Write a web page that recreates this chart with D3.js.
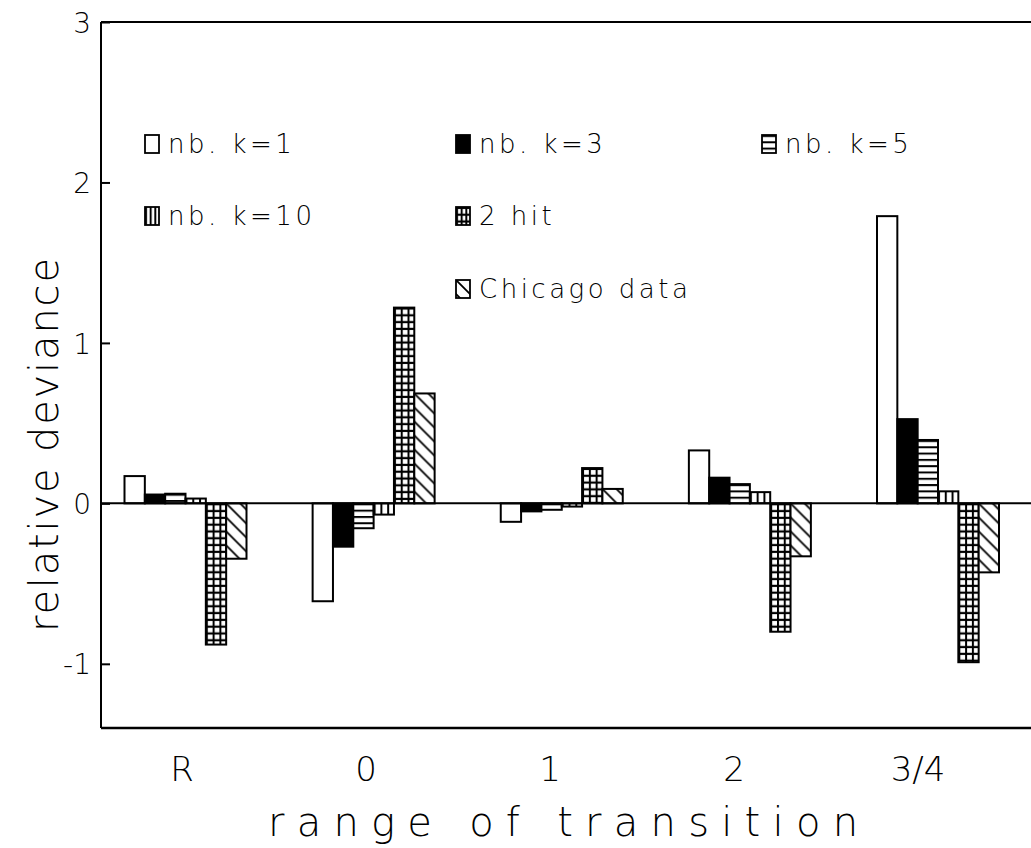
<!DOCTYPE html>
<html>
<head>
<meta charset="utf-8">
<script src="https://cdn.jsdelivr.net/npm/d3@7"></script>
<style>
body { margin: 0; background: #fff; }
text { font-family: "DejaVu Sans", sans-serif; font-weight: 200; fill: #000; }
</style>
</head>
<body>
<div id="chart"></div>
<script>
// categories on the x axis
const categories = ["R", "0", "1", "2", "3/4"];
const seriesNames = ["nb. k=1", "nb. k=3", "nb. k=5", "nb. k=10", "2 hit", "Chicago data"];

// relative deviance per category, one array per series
const nbK1 = [0.17, -0.61, -0.115, 0.33, 1.79];
const nbK3 = [0.055, -0.27, -0.05, 0.16, 0.525];
const nbK5 = [0.06, -0.155, -0.04, 0.12, 0.395];
const nbK10 = [0.03, -0.07, -0.02, 0.07, 0.075];
const twoHit = [-0.88, 1.22, 0.22, -0.80, -0.99];
const chicago = [-0.345, 0.685, 0.09, -0.33, -0.43];

const yTicks = [-1, 0, 1, 2, 3];

const allSeries = [nbK1, nbK3, nbK5, nbK10, twoHit, chicago];
const fills = ["open", "solid", "hstripe", "vstripe", "grid", "hatch"];

const width = 1031, height = 848;
const plotLeft = 101, plotTop = 22, plotBottom = 728;

const svg = d3.select("#chart")
    .append("svg")
    .attr("width", width)
    .attr("height", height);

const defs = svg.append("defs");

// y scale
const y = d3.scaleLinear()
    .domain([-1.4, 3])
    .range([plotBottom, plotTop]);

// group centres for the bars and for the labels (they drift a bit in the original)
const xGroup = d3.scalePoint().domain(categories).range([185.5, 938]);
const xLabel = d3.scalePoint().domain(categories).range([182, 918]);
const xInner = d3.scaleBand().domain(seriesNames).range([-61, 61]);

let patCount = 0;
// builds a fill pattern anchored at the rect origin so stripes line up with the edges
function makeFill(type, x0, y0, w) {
    if (type === "open") return "#fff";
    if (type === "solid") return "#000";
    const id = "pat" + (patCount++);
    const p = defs.append("pattern")
        .attr("id", id)
        .attr("patternUnits", "userSpaceOnUse")
        .attr("x", x0)
        .attr("y", y0);
    if (type === "hstripe") {
        p.attr("width", w).attr("height", 6.3);
        p.append("rect").attr("width", w).attr("height", 6.3).attr("fill", "#fff");
        p.append("rect").attr("width", w).attr("height", 2).attr("fill", "#000");
    } else if (type === "vstripe") {
        const pw = w / 3;
        p.attr("width", pw).attr("height", 10);
        p.append("rect").attr("width", pw).attr("height", 10).attr("fill", "#fff");
        p.append("rect").attr("width", 2).attr("height", 10).attr("fill", "#000");
    } else if (type === "grid") {
        const pw = w / 3, ph = 6.8;
        p.attr("width", pw).attr("height", ph);
        p.append("rect").attr("width", pw).attr("height", ph).attr("fill", "#000");
        p.append("rect").attr("x", 2).attr("y", 2)
            .attr("width", pw - 2).attr("height", ph - 2.2).attr("fill", "#fff");
    } else if (type === "hatch") {
        const s = 14;
        p.attr("width", s).attr("height", s);
        p.append("rect").attr("width", s).attr("height", s).attr("fill", "#fff");
        p.append("path")
            .attr("d", `M0,0L${s},${s}M${-s / 2},${s / 2}L${s / 2},${s * 1.5}M${s / 2},${-s / 2}L${s * 1.5},${s / 2}`)
            .attr("stroke", "#000")
            .attr("stroke-width", 1.8);
    }
    return `url(#${id})`;
}

// frame
svg.append("line")
    .attr("x1", plotLeft).attr("x2", width)
    .attr("y1", plotTop).attr("y2", plotTop)
    .attr("stroke", "#000").attr("stroke-width", 2);
svg.append("line")
    .attr("x1", plotLeft).attr("x2", width)
    .attr("y1", plotBottom).attr("y2", plotBottom)
    .attr("stroke", "#000").attr("stroke-width", 2.5);

// y axis, ticks pointing inward
const yAxis = svg.append("g")
    .attr("transform", `translate(${plotLeft},0)`)
    .call(d3.axisLeft(y).tickValues(yTicks).tickSize(-9).tickSizeOuter(0).tickPadding(10).tickFormat(d => String(d)));
yAxis.select(".domain").remove();
yAxis.append("line")
    .attr("y1", plotTop).attr("y2", plotBottom)
    .attr("stroke", "#000").attr("stroke-width", 2);
yAxis.selectAll(".tick line").attr("stroke", "#000").attr("stroke-width", 2);
yAxis.selectAll(".tick text")
    .attr("font-size", 28)
    .attr("font-family", "DejaVu Sans")
    .attr("fill", "#000")
    .attr("dy", "0.36em");

// bars
allSeries.forEach(function(values, j) {
    const g = svg.append("g");
    categories.forEach(function(c, i) {
        const v = values[i];
        const bx = xGroup(c) + xInner(seriesNames[j]);
        const bw = xInner.bandwidth();
        const by = y(Math.max(v, 0));
        const bh = Math.abs(y(v) - y(0));
        g.append("rect")
            .attr("x", bx)
            .attr("y", by)
            .attr("width", bw)
            .attr("height", bh)
            .attr("fill", makeFill(fills[j], bx, by, bw))
            .attr("stroke", "#000")
            .attr("stroke-width", 2);
    });
});

// zero line
svg.append("line")
    .attr("x1", plotLeft).attr("x2", width)
    .attr("y1", y(0)).attr("y2", y(0))
    .attr("stroke", "#000").attr("stroke-width", 2);

// x labels
svg.append("g").selectAll("text")
    .data(categories)
    .enter()
    .append("text")
    .attr("x", d => xLabel(d))
    .attr("y", 781)
    .attr("text-anchor", "middle")
    .attr("font-size", 34)
    .text(d => d);

// axis titles
svg.append("text")
    .attr("x", 268)
    .attr("y", 836)
    .attr("font-size", 40)
    .attr("textLength", 590)
    .attr("lengthAdjust", "spacing")
    .text("range of transition");

svg.append("text")
    .attr("transform", "translate(58,632) rotate(-90)")
    .attr("font-size", 40)
    .attr("textLength", 374)
    .attr("lengthAdjust", "spacing")
    .text("relative deviance");

// legend
const legendPos = [[145, 135], [456, 135], [762, 135], [145, 207], [456, 207], [456, 280]];
seriesNames.forEach(function(name, j) {
    const [lx, ly] = legendPos[j];
    const sw = 14, sh = 18;
    svg.append("rect")
        .attr("x", lx)
        .attr("y", ly)
        .attr("width", sw)
        .attr("height", sh)
        .attr("fill", makeFill(fills[j], lx, ly, sw))
        .attr("stroke", "#000")
        .attr("stroke-width", 1.8);
    svg.append("text")
        .attr("x", lx + 23)
        .attr("y", ly + 18)
        .attr("font-size", 26)
        .attr("letter-spacing", 3.5)
        .text(name);
});
</script>
</body>
</html>
